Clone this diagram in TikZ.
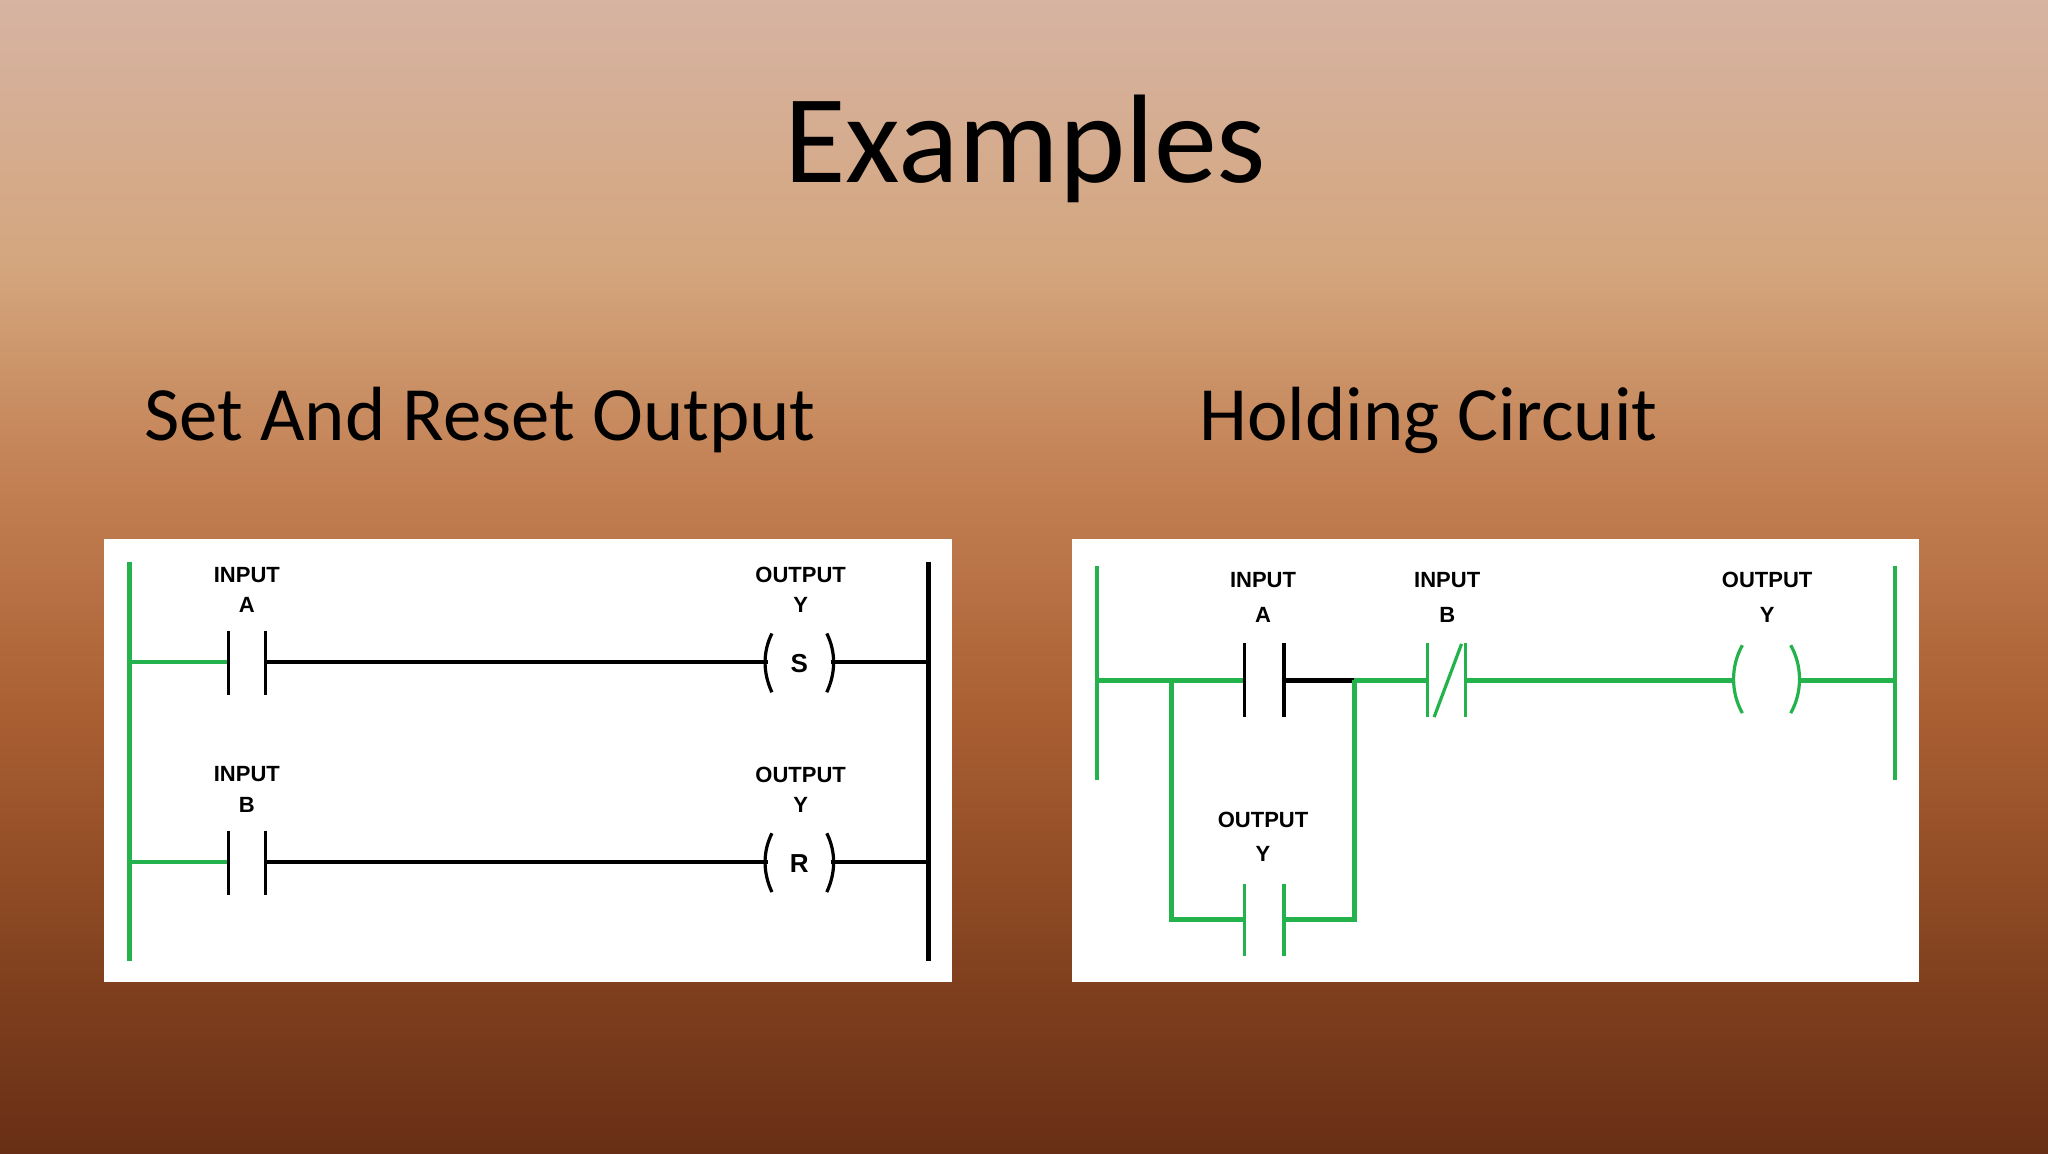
\documentclass[tikz,border=0pt]{standalone}
\usepackage{fontspec}
\setmainfont{Carlito}
\newfontfamily\lblfont{Liberation Sans}
\definecolor{cA}{RGB}{214,179,162}
\definecolor{cB}{RGB}{212,166,126}
\definecolor{cC}{RGB}{196,131,86}
\definecolor{cD}{RGB}{170,95,50}
\definecolor{cE}{RGB}{128,64,30}
\definecolor{cF}{RGB}{104,47,22}
\definecolor{lgreen}{RGB}{35,178,75}
\pgfdeclareverticalshading{bgsh}{100bp}{color(0bp)=(cF); color(25bp)=(cF); color(32.5bp)=(cE); color(44bp)=(cD); color(55bp)=(cC); color(63.5bp)=(cB); color(75bp)=(cA); color(100bp)=(cA)}
\tikzset{
  gw/.style={draw=lgreen, line width=2.2pt},
  bw/.style={draw=black, line width=2.2pt},
  bar/.style={line width=1.6pt},
  lbl/.style={font=\lblfont\bfseries\fontsize{11}{12}\selectfont, inner sep=0pt},
  coil/.style={font=\lblfont\bfseries\fontsize{13}{14}\selectfont, inner sep=0pt},
}
\begin{document}
\begin{tikzpicture}[x=0.653pt,y=-0.653pt]
\useasboundingbox (0,0) rectangle (1568,883);
\shade[shading=bgsh] (0,0) rectangle (1568,883);
\node[font=\fontsize{63}{66}\selectfont, inner sep=0pt] (title) at (785,114) {Examples};
\node[font=\fontsize{38.4}{42}\selectfont, anchor=base west, inner sep=0pt] (st1) at (110,337) {Set And Reset Output};
\node[font=\fontsize{38.4}{42}\selectfont, anchor=base west, inner sep=0pt] (st2) at (918,337) {Holding Circuit};
\fill[white] (80,413) rectangle (729,752);
\fill[white] (821,413) rectangle (1469,752);

% ---- left diagram
\coordinate (lrt) at (99,430); \coordinate (lrb) at (99,736);
\coordinate (rrt) at (711,430); \coordinate (rrb) at (711,736);
\draw[gw] (lrt) -- (lrb);
\draw[bw] (rrt) -- (rrb);
\foreach \yy/\inp/\ch/\nm in {507/A/S/one,660/B/R/two}{
  \coordinate (a\nm) at (99,\yy);
  \coordinate (c1\nm) at (175,\yy);
  \coordinate (c2\nm) at (203,\yy);
  \coordinate (k1\nm) at (588,\yy);
  \coordinate (k2\nm) at (636,\yy);
  \coordinate (e\nm) at (711,\yy);
  \draw[gw] (a\nm) -- (c1\nm);
  \draw[bar] (175,\yy-24) -- (175,\yy+25);
  \draw[bar] (203,\yy-24) -- (203,\yy+25);
  \draw[bw] (c2\nm) -- (k1\nm);
  \draw[bw] (k2\nm) -- (e\nm);
  \draw[bar] (591,\yy-22) .. controls (584,\yy-8) and (584,\yy+8) .. (591,\yy+23);
  \draw[bar] (633,\yy-22) .. controls (640,\yy-8) and (640,\yy+8) .. (633,\yy+23);
  \node[coil] (s\nm) at (612,\yy+1) {\ch};
  \node[lbl] (i\nm) at (189,\yy-67) {INPUT};
  \node[lbl] (ix\nm) at (189,\yy-44) {\inp};
  \node[lbl] (o\nm) at (613,\yy-67) {OUTPUT};
  \node[lbl] (oy\nm) at (613,\yy-44) {Y};
}

% ---- right diagram
\coordinate (Lt) at (840,433); \coordinate (Lb) at (840,597);
\coordinate (Rt) at (1451,433); \coordinate (Rb) at (1451,597);
\draw[gw] (Lt) -- (Lb);
\draw[gw] (Rt) -- (Rb);
\coordinate (r0) at (840,521);
\coordinate (j1) at (897,521);
\coordinate (ca1) at (953,521);
\coordinate (ca2) at (983,521);
\coordinate (j2) at (1037,521);
\coordinate (cb1) at (1093,521);
\coordinate (cb2) at (1122,521);
\coordinate (q1) at (1328,521);
\coordinate (q2) at (1377,521);
\coordinate (r1) at (1451,521);
\coordinate (j1b) at (897,704);
\coordinate (j2b) at (1037,704);
\coordinate (cy1) at (953,704);
\coordinate (cy2) at (983,704);
\draw[gw] (r0) -- (ca1);
\draw[bw] (ca2) -- (j2);
\draw[gw] (j2) -- (cb1);
\draw[gw] (cb2) -- (q1);
\draw[gw] (q2) -- (r1);
\draw[gw] (j1) -- (j1b) -- (cy1);
\draw[gw] (cy2) -- (j2b) -- (j2);
\draw[bar] (953,492) -- (953,549);
\draw[bar] (983,492) -- (983,549);
\draw[bar,lgreen] (1093,492) -- (1093,549);
\draw[bar,lgreen] (1122,492) -- (1122,549);
\draw[bar,lgreen] (1098,549) -- (1119,493);
\draw[bar,lgreen] (953,677) -- (953,732);
\draw[bar,lgreen] (983,677) -- (983,732);
\draw[bar,lgreen] (1334,494) .. controls (1325,510) and (1325,530) .. (1334,546);
\draw[bar,lgreen] (1371,494) .. controls (1380,510) and (1380,530) .. (1371,546);
\node[lbl] (ia) at (967,444) {INPUT};
\node[lbl] (iax) at (967,471) {A};
\node[lbl] (ib) at (1108,444) {INPUT};
\node[lbl] (ibx) at (1108,471) {B};
\node[lbl] (oo) at (1353,444) {OUTPUT};
\node[lbl] (ooy) at (1353,471) {Y};
\node[lbl] (ol) at (967,628) {OUTPUT};
\node[lbl] (oly) at (967,654) {Y};
\end{tikzpicture}
\end{document}
